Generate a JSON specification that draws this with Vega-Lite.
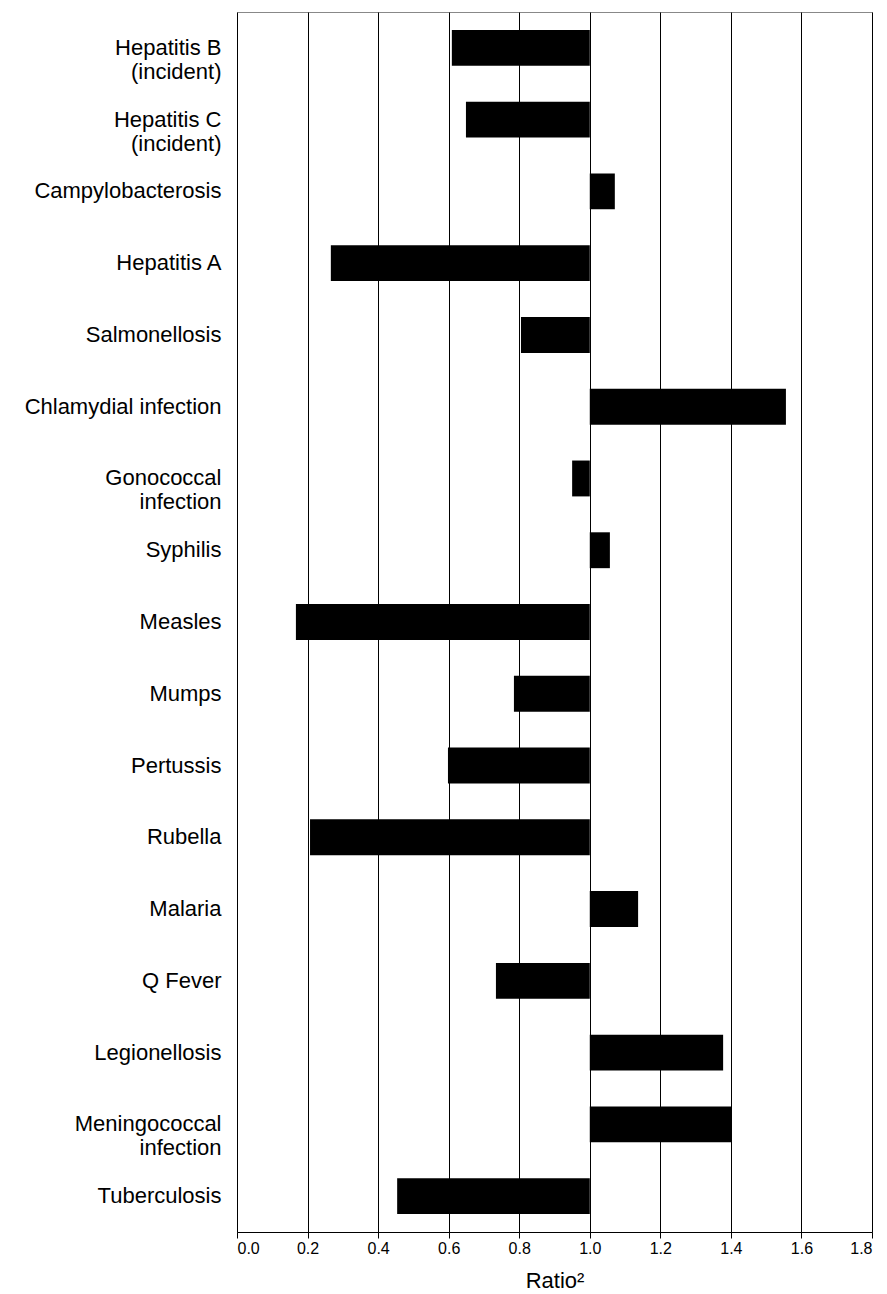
{
"$schema":"https://vega.github.io/schema/vega-lite/v6.json",
"width":635,"height":1220,
"autosize":"none",
"padding":{"left":237,"top":12,"right":15,"bottom":62},
"background":"white",
"config":{"font":"Liberation Sans","view":{"stroke":"#888888","strokeWidth":1}},
"data":{"values":[
{"d":"Hepatitis B|(incident)","v":0.609},
{"d":"Hepatitis C|(incident)","v":0.649},
{"d":"Campylobacterosis","v":1.071},
{"d":"Hepatitis A","v":0.266},
{"d":"Salmonellosis","v":0.805},
{"d":"Chlamydial infection","v":1.556},
{"d":"Gonococcal|infection","v":0.95},
{"d":"Syphilis","v":1.057},
{"d":"Measles","v":0.167},
{"d":"Mumps","v":0.785},
{"d":"Pertussis","v":0.598},
{"d":"Rubella","v":0.207},
{"d":"Malaria","v":1.137},
{"d":"Q Fever","v":0.734},
{"d":"Legionellosis","v":1.378},
{"d":"Meningococcal|infection","v":1.403},
{"d":"Tuberculosis","v":0.454}
]},
"mark":{"type":"bar","color":"#000000"},
"encoding":{
"y":{"field":"d","type":"nominal","sort":null,"title":null,
"scale":{"paddingInner":0.5,"paddingOuter":0.25},
"axis":{"labelExpr":"split(datum.label,'|')","labelFontSize":22,"labelColor":"#000","ticks":false,"domain":false,"labelPadding":16,"labelLimit":300,"labelLineHeight":24}},
"x":{"field":"v","type":"quantitative","title":"Ratio²",
"scale":{"domain":[0,1.8],"nice":false},
"axis":{"values":[0,0.2,0.4,0.6,0.8,1,1.2,1.4,1.6,1.8],"format":".1f","labelFontSize":16,"labelColor":"#000","titleFontSize":22,"titleFontWeight":"normal","titleColor":"#000","titlePadding":14,"grid":true,"gridColor":"#000","gridWidth":1,"domainColor":"#000","tickColor":"#000","tickSize":6}},
"x2":{"datum":1}
}
}
